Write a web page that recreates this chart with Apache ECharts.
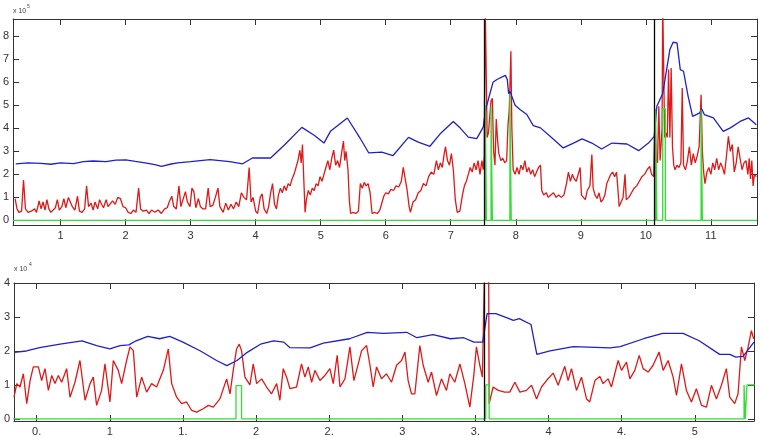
<!DOCTYPE html>
<html>
<head>
<meta charset="utf-8">
<script src="https://cdn.jsdelivr.net/npm/echarts@6/dist/echarts.min.js"></script>
<style>
  html, body { margin: 0; padding: 0; background: #fff; }
  #chart { width: 762px; height: 438px; }
</style>
</head>
<body>
<div id="chart"></div>
<script>
// top panel, values in units of 10^5
const topXTicks = [1, 2, 3, 4, 5, 6, 7, 8, 9, 10, 11];
const topYTicks = [0, 1, 2, 3, 4, 5, 6, 7, 8];
const topBlack = [7.52, 10.13];

const topBlue = [
  [0.31, 2.46], [0.5, 2.5], [0.7, 2.48], [0.85, 2.44], [1.0, 2.5], [1.2, 2.47], [1.35, 2.55], [1.5, 2.58],
  [1.7, 2.55], [1.85, 2.62], [2.0, 2.63], [2.15, 2.56], [2.3, 2.5], [2.45, 2.42], [2.55, 2.35], [2.7, 2.45],
  [2.8, 2.5], [3.0, 2.55], [3.15, 2.6], [3.3, 2.64], [3.45, 2.6], [3.6, 2.55], [3.8, 2.46], [3.95, 2.71],
  [4.05, 2.72], [4.23, 2.71], [4.45, 3.3], [4.71, 4.04], [4.9, 3.7], [5.05, 3.36], [5.15, 3.87], [5.41, 4.45],
  [5.6, 3.6], [5.74, 2.93], [5.94, 2.97], [6.11, 2.81], [6.35, 3.61], [6.5, 3.4], [6.68, 3.22], [6.85, 3.8],
  [7.04, 4.3], [7.15, 4.0], [7.27, 3.62], [7.40, 3.55], [7.50, 4.05], [7.53, 4.7], [7.55, 4.96], [7.65, 6.0],
  [7.71, 6.12], [7.84, 6.3], [7.87, 6.12], [7.89, 5.5], [7.91, 5.61], [7.99, 5.0], [8.07, 4.81], [8.17, 4.6],
  [8.27, 4.12], [8.38, 4.02], [8.55, 3.6], [8.73, 3.15], [8.88, 3.35], [9.02, 3.54], [9.17, 3.36], [9.32, 3.10],
  [9.48, 3.36], [9.71, 3.32], [9.89, 3.03], [10.04, 3.36], [10.13, 3.65], [10.17, 4.96], [10.26, 5.51],
  [10.37, 7.42], [10.42, 7.74], [10.48, 7.71], [10.53, 6.55], [10.58, 6.48], [10.65, 5.4], [10.72, 4.52],
  [10.83, 4.67], [10.86, 4.84], [10.90, 4.6], [11.04, 4.45], [11.19, 3.87], [11.30, 4.02], [11.45, 4.3],
  [11.58, 4.45], [11.70, 4.16]
];

const topRed = [
  [0.30, 0.95], [0.33, 0.5], [0.36, 0.35], [0.40, 0.4], [0.43, 1.75], [0.46, 0.5], [0.50, 0.35], [0.55, 0.4],
  [0.60, 0.5], [0.63, 0.35], [0.67, 0.85], [0.70, 0.5], [0.73, 0.8], [0.76, 0.45], [0.79, 0.9], [0.82, 0.5],
  [0.85, 0.35], [0.88, 0.3], [0.92, 0.55], [0.95, 0.9], [0.98, 0.45], [1.02, 0.6], [1.05, 0.95], [1.08, 0.55],
  [1.12, 1.0], [1.15, 1.05], [1.18, 0.6], [1.22, 0.45], [1.26, 1.05], [1.29, 0.4], [1.33, 0.35], [1.37, 0.5],
  [1.40, 1.5], [1.43, 0.6], [1.47, 0.75], [1.50, 0.45], [1.53, 0.8], [1.57, 0.5], [1.60, 0.9], [1.63, 0.7],
  [1.66, 0.55], [1.70, 0.9], [1.73, 0.6], [1.76, 0.65], [1.80, 0.85], [1.84, 0.7], [1.88, 1.0], [1.92, 0.95],
  [1.96, 0.6], [2.00, 0.55], [2.04, 0.35], [2.08, 0.3], [2.12, 0.45], [2.16, 0.35], [2.20, 1.4], [2.23, 0.5],
  [2.27, 0.4], [2.32, 0.45], [2.36, 0.3], [2.40, 0.45], [2.45, 0.35], [2.50, 0.45], [2.55, 0.3], [2.60, 0.5],
  [2.64, 0.55], [2.67, 0.8], [2.71, 1.05], [2.74, 0.6], [2.78, 0.5], [2.82, 1.5], [2.85, 0.6], [2.88, 0.6],
  [2.92, 1.25], [2.95, 0.8], [2.99, 0.6], [3.02, 1.4], [3.05, 1.25], [3.08, 0.55], [3.12, 0.95], [3.15, 0.6],
  [3.19, 0.5], [3.23, 0.5], [3.27, 1.4], [3.30, 0.6], [3.34, 0.65], [3.38, 1.0], [3.42, 1.4], [3.45, 0.6],
  [3.50, 0.35], [3.54, 0.75], [3.58, 0.45], [3.62, 0.7], [3.66, 0.5], [3.70, 0.8], [3.74, 0.6], [3.78, 1.2],
  [3.82, 1.0], [3.86, 0.9], [3.90, 2.3], [3.93, 0.8], [3.96, 1.0], [4.00, 0.4], [4.03, 0.3], [4.07, 1.0],
  [4.10, 1.15], [4.13, 0.5], [4.17, 0.3], [4.20, 0.6], [4.23, 1.2], [4.26, 1.6], [4.29, 0.7], [4.32, 0.5],
  [4.35, 1.1], [4.38, 1.4], [4.41, 1.2], [4.44, 1.5], [4.47, 1.3], [4.50, 1.6], [4.53, 1.5], [4.56, 1.8],
  [4.59, 2.0], [4.62, 2.3], [4.65, 2.6], [4.68, 3.05], [4.70, 2.5], [4.72, 3.3], [4.74, 1.8], [4.76, 0.35],
  [4.78, 0.9], [4.81, 1.3], [4.84, 1.1], [4.87, 1.4], [4.90, 1.3], [4.93, 1.6], [4.96, 1.5], [4.99, 1.9],
  [5.02, 1.7], [5.05, 2.0], [5.08, 2.3], [5.11, 2.6], [5.14, 2.2], [5.17, 2.7], [5.20, 3.05], [5.23, 2.4],
  [5.26, 2.6], [5.29, 2.3], [5.32, 2.9], [5.35, 3.45], [5.37, 2.6], [5.39, 3.0], [5.42, 2.2], [5.44, 0.9],
  [5.46, 0.3], [5.50, 0.35], [5.54, 0.3], [5.58, 0.4], [5.61, 1.6], [5.64, 1.4], [5.67, 1.65], [5.70, 1.5],
  [5.73, 1.6], [5.76, 1.2], [5.79, 0.3], [5.83, 0.35], [5.87, 0.3], [5.91, 0.45], [5.94, 0.5], [5.97, 1.05],
  [6.00, 1.2], [6.04, 1.15], [6.08, 1.35], [6.12, 1.3], [6.16, 1.5], [6.20, 1.45], [6.24, 1.7], [6.27, 2.3],
  [6.30, 1.8], [6.33, 1.3], [6.36, 0.6], [6.38, 0.35], [6.42, 0.8], [6.46, 0.9], [6.50, 1.2], [6.54, 1.3],
  [6.58, 1.6], [6.62, 1.5], [6.66, 1.9], [6.70, 2.1], [6.74, 2.0], [6.78, 2.6], [6.81, 2.2], [6.84, 2.5],
  [6.87, 2.3], [6.90, 2.9], [6.92, 3.2], [6.95, 2.6], [6.98, 2.4], [7.01, 2.9], [7.04, 2.2], [7.07, 0.9],
  [7.10, 0.35], [7.14, 0.4], [7.18, 1.1], [7.21, 1.5], [7.24, 1.7], [7.27, 2.0], [7.30, 2.3], [7.33, 2.1],
  [7.36, 2.5], [7.39, 2.2], [7.42, 2.6], [7.45, 2.0], [7.48, 2.6], [7.50, 2.2], [7.515, 2.8], [7.53, 9.5],
  [7.545, 9.5], [7.56, 3.6], [7.58, 3.8], [7.60, 4.5], [7.62, 5.2], [7.64, 5.3], [7.66, 3.0], [7.68, 2.4],
  [7.70, 4.4], [7.72, 3.5], [7.74, 2.9], [7.77, 2.6], [7.80, 2.7], [7.83, 2.5], [7.86, 2.6], [7.88, 4.1],
  [7.90, 4.8], [7.925, 7.35], [7.94, 4.0], [7.96, 2.2], [7.99, 2.0], [8.02, 2.3], [8.05, 2.0], [8.08, 2.4],
  [8.11, 2.2], [8.14, 2.6], [8.17, 2.1], [8.20, 2.3], [8.23, 2.0], [8.26, 2.2], [8.29, 1.9], [8.32, 2.1],
  [8.35, 2.3], [8.38, 2.4], [8.40, 1.3], [8.43, 1.1], [8.47, 1.2], [8.50, 1.0], [8.54, 1.1], [8.58, 1.2],
  [8.62, 1.0], [8.66, 1.1], [8.70, 1.0], [8.74, 1.1], [8.78, 1.6], [8.81, 2.1], [8.84, 1.7], [8.87, 2.0],
  [8.90, 1.8], [8.93, 1.7], [8.96, 2.0], [8.99, 2.3], [9.01, 1.1], [9.04, 1.0], [9.07, 0.9], [9.10, 1.3],
  [9.14, 1.5], [9.17, 2.86], [9.19, 1.4], [9.22, 1.1], [9.25, 0.95], [9.28, 1.2], [9.31, 0.8], [9.34, 0.9],
  [9.37, 1.1], [9.40, 1.6], [9.43, 1.8], [9.46, 2.0], [9.49, 2.1], [9.52, 1.9], [9.55, 2.1], [9.57, 1.4],
  [9.59, 0.6], [9.62, 0.8], [9.65, 1.0], [9.68, 2.0], [9.70, 0.9], [9.74, 1.0], [9.78, 1.2], [9.82, 1.4],
  [9.86, 1.5], [9.90, 1.7], [9.94, 1.9], [9.98, 2.0], [10.02, 2.2], [10.06, 2.35], [10.09, 2.0], [10.12, 1.9],
  [10.14, 4.5], [10.16, 2.6], [10.18, 2.5], [10.20, 4.96], [10.22, 2.6], [10.25, 4.0], [10.26, 9.5],
  [10.28, 9.5], [10.29, 3.6], [10.31, 3.8], [10.33, 3.6], [10.35, 6.55], [10.37, 3.6], [10.39, 6.62],
  [10.41, 3.2], [10.43, 2.4], [10.45, 2.2], [10.48, 2.4], [10.51, 2.3], [10.54, 2.5], [10.56, 5.75],
  [10.58, 2.4], [10.61, 2.2], [10.64, 2.6], [10.67, 3.2], [10.70, 2.4], [10.73, 2.9], [10.76, 2.5],
  [10.79, 2.8], [10.82, 3.2], [10.85, 5.46], [10.87, 3.0], [10.89, 2.1], [10.91, 1.6], [10.94, 2.1],
  [10.97, 2.3], [11.00, 2.0], [11.03, 2.5], [11.06, 2.2], [11.09, 2.7], [11.12, 2.2], [11.15, 2.5],
  [11.18, 2.3], [11.21, 2.0], [11.24, 2.8], [11.27, 3.65], [11.30, 3.0], [11.33, 3.3], [11.36, 2.1],
  [11.39, 2.5], [11.42, 3.2], [11.45, 2.7], [11.48, 2.2], [11.51, 2.5], [11.54, 2.6], [11.57, 2.0],
  [11.59, 2.7], [11.61, 1.8], [11.63, 2.6], [11.65, 1.5], [11.67, 2.0], [11.70, 1.9]
];

const topGreen = [
  [0.27, 0], [7.53, 0], [7.53, 5.0], [7.55, 5.0], [7.55, 0], [7.62, 0], [7.62, 4.95], [7.64, 4.95], [7.64, 0],
  [7.91, 0], [7.91, 5.5], [7.93, 5.5], [7.93, 0], [10.15, 0], [10.15, 4.85], [10.17, 4.85], [10.17, 0],
  [10.26, 0], [10.26, 4.85], [10.30, 4.85], [10.30, 0], [10.85, 0], [10.85, 4.8], [10.87, 4.8], [10.87, 0],
  [11.71, 0]
];

// bottom panel, values in units of 10^4
const bottomXTicks = [0.5, 1, 1.5, 2, 2.5, 3, 3.5, 4, 4.5, 5];
const bottomXLabels = ['0.', '1', '1.', '2', '2.', '3', '3.', '4', '4.', '5'];
const bottomYTicks = [0, 1, 2, 3, 4];
const bottomBlack = [3.56];

const bottomBlue = [
  [0.345, 1.96], [0.43, 2.0], [0.52, 2.1], [0.66, 2.2], [0.81, 2.3], [0.91, 2.16], [1.0, 2.06], [1.07, 2.16],
  [1.13, 2.18], [1.18, 2.3], [1.26, 2.43], [1.34, 2.36], [1.41, 2.43], [1.5, 2.26], [1.62, 2.0], [1.73, 1.72],
  [1.80, 1.57], [1.87, 1.72], [1.94, 1.96], [2.03, 2.2], [2.12, 2.3], [2.19, 2.26], [2.23, 2.1], [2.37, 2.09],
  [2.46, 2.23], [2.64, 2.36], [2.76, 2.55], [2.87, 2.52], [3.03, 2.55], [3.10, 2.39], [3.21, 2.48],
  [3.33, 2.36], [3.42, 2.39], [3.49, 2.26], [3.55, 2.26], [3.58, 3.1], [3.64, 3.1], [3.73, 2.95],
  [3.76, 2.9], [3.80, 2.95], [3.88, 2.78], [3.92, 1.9], [4.01, 2.0], [4.17, 2.13], [4.42, 2.09], [4.49, 2.13],
  [4.65, 2.36], [4.78, 2.52], [4.92, 2.52], [5.03, 2.3], [5.17, 1.9], [5.24, 1.9], [5.28, 1.82], [5.33, 1.84],
  [5.405, 2.26]
];

const bottomRed = [
  [0.345, 0.64], [0.364, 1.04], [0.386, 0.94], [0.409, 1.33], [0.432, 0.45], [0.455, 1.13], [0.477, 1.53],
  [0.512, 1.53], [0.534, 1.13], [0.557, 1.48], [0.580, 0.84], [0.603, 1.28], [0.625, 1.04], [0.648, 1.28],
  [0.671, 1.08], [0.705, 1.48], [0.728, 0.64], [0.762, 1.08], [0.796, 1.72], [0.831, 0.55], [0.865, 1.04],
  [0.887, 1.23], [0.910, 0.4], [0.944, 0.84], [0.967, 1.62], [1.001, 0.5], [1.024, 1.72], [1.058, 1.43],
  [1.081, 1.04], [1.115, 1.72], [1.138, 2.12], [1.161, 2.01], [1.184, 0.64], [1.218, 1.23], [1.252, 0.79],
  [1.286, 1.04], [1.320, 0.94], [1.366, 1.43], [1.400, 2.06], [1.423, 1.04], [1.457, 0.64], [1.491, 0.45],
  [1.525, 0.5], [1.560, 0.25], [1.594, 0.2], [1.639, 0.3], [1.673, 0.4], [1.708, 0.35], [1.753, 0.59],
  [1.799, 1.18], [1.822, 0.74], [1.844, 1.43], [1.867, 2.06], [1.885, 2.2], [1.901, 2.01], [1.924, 1.23],
  [1.958, 1.0], [1.981, 1.62], [2.004, 1.04], [2.038, 1.18], [2.072, 0.94], [2.106, 0.74], [2.141, 1.04],
  [2.163, 0.55], [2.186, 1.48], [2.209, 1.23], [2.232, 0.89], [2.277, 0.94], [2.311, 1.62], [2.334, 1.23],
  [2.357, 1.53], [2.380, 1.08], [2.403, 1.43], [2.437, 1.13], [2.471, 1.28], [2.505, 1.48], [2.528, 1.04],
  [2.555, 1.87], [2.574, 0.94], [2.608, 1.18], [2.642, 2.12], [2.669, 1.13], [2.699, 1.62], [2.722, 2.01],
  [2.756, 2.16], [2.779, 1.58], [2.801, 0.94], [2.824, 1.53], [2.858, 1.18], [2.892, 1.33], [2.926, 1.08],
  [2.961, 1.58], [2.995, 1.72], [3.018, 1.97], [3.040, 1.13], [3.063, 0.74], [3.086, 0.74], [3.120, 2.16],
  [3.143, 1.58], [3.177, 1.08], [3.200, 1.38], [3.234, 0.69], [3.268, 1.18], [3.302, 0.84], [3.325, 1.33],
  [3.359, 1.08], [3.394, 1.62], [3.428, 1.04], [3.462, 0.35], [3.489, 1.28], [3.507, 2.12], [3.530, 1.58],
  [3.548, 1.23], [3.565, 5.0], [3.59, 5.0], [3.594, 0.45], [3.621, 0.94], [3.656, 0.84], [3.701, 0.79],
  [3.735, 0.79], [3.770, 1.08], [3.804, 0.79], [3.849, 0.84], [3.884, 0.99], [3.918, 0.59], [3.952, 0.94],
  [3.986, 1.13], [4.032, 1.35], [4.066, 0.99], [4.111, 1.55], [4.134, 1.13], [4.157, 1.48], [4.191, 0.84],
  [4.225, 1.23], [4.260, 0.59], [4.282, 0.5], [4.317, 1.13], [4.351, 1.25], [4.373, 1.04], [4.407, 1.18],
  [4.430, 0.94], [4.476, 1.72], [4.499, 1.43], [4.533, 1.67], [4.556, 1.18], [4.590, 1.43], [4.620, 1.87],
  [4.647, 1.48], [4.681, 1.38], [4.715, 1.58], [4.756, 1.97], [4.784, 1.43], [4.818, 1.72], [4.852, 1.23],
  [4.875, 0.69], [4.909, 1.62], [4.943, 0.84], [4.977, 0.5], [5.011, 0.89], [5.046, 0.4], [5.080, 0.35],
  [5.114, 0.99], [5.148, 0.59], [5.182, 0.99], [5.216, 1.48], [5.239, 0.64], [5.273, 0.45], [5.296, 0.74],
  [5.319, 2.12], [5.342, 1.72], [5.365, 2.12], [5.387, 2.6], [5.403, 2.36]
];

const bottomGreen = [
  [0.34, 0], [1.863, 0], [1.863, 0.98], [1.901, 0.98], [1.901, 0], [3.571, 0], [3.571, 1.0], [3.594, 1.0],
  [3.594, 0], [5.337, 0], [5.337, 1.0], [5.345, 1.0], [5.345, 0], [5.357, 0], [5.357, 1.0], [5.41, 1.0]
];

const BLUE = '#2020c8';
const RED = '#e01818';
const GREEN = '#33dd33';
const AXIS = '#333';
const FONT = 'Liberation Sans, Arial, sans-serif';

const chart = echarts.init(document.getElementById('chart'));

function xAxisPair(gridIndex, min, max, ticks, formatter) {
  const base = {
    type: 'value', gridIndex, min, max,
    splitLine: { show: false },
    axisLine: { show: true, onZero: false, lineStyle: { color: AXIS, width: 1 } },
    axisTick: { show: true, inside: true, length: 6, customValues: ticks, lineStyle: { color: AXIS } }
  };
  return [
    Object.assign({}, base, {
      position: 'bottom',
      axisLabel: { show: true, customValues: ticks, margin: 5, fontSize: 11, color: '#333', fontFamily: FONT, formatter }
    }),
    Object.assign({}, base, { position: 'top', axisLabel: { show: false } })
  ];
}

function yAxisPair(gridIndex, min, max, ticks) {
  const base = {
    type: 'value', gridIndex, min, max,
    splitLine: { show: false },
    axisLine: { show: true, onZero: false, lineStyle: { color: AXIS, width: 1 } },
    axisTick: { show: true, inside: true, length: 6, customValues: ticks, lineStyle: { color: AXIS } }
  };
  return [
    Object.assign({}, base, {
      position: 'left',
      axisLabel: { show: true, customValues: ticks, margin: 4, fontSize: 11, color: '#333', fontFamily: FONT }
    }),
    Object.assign({}, base, { position: 'right', axisLabel: { show: false } })
  ];
}

function line(name, data, color, xi, yi, extra) {
  return Object.assign({
    name, type: 'line', data, xAxisIndex: xi, yAxisIndex: yi,
    showSymbol: false, symbol: 'none', clip: true, animation: false,
    lineStyle: { color, width: 1.3 }
  }, extra || {});
}

function blackLines(values) {
  return {
    silent: true, symbol: 'none', animation: false,
    label: { show: false },
    lineStyle: { color: '#000', type: 'solid', width: 1.3 },
    data: values.map(v => ({ xAxis: v }))
  };
}

chart.setOption({
  animation: false,
  backgroundColor: '#fff',
  grid: [
    { left: 13, right: 5, top: 19, height: 206 },
    { left: 14, right: 8, top: 283, height: 138 }
  ],
  xAxis: [
    ...xAxisPair(0, 0.27, 11.71, topXTicks, v => String(v)),
    ...xAxisPair(1, 0.345, 5.405, bottomXTicks, v => {
      const i = bottomXTicks.findIndex(t => Math.abs(t - v) < 1e-6);
      return i >= 0 ? bottomXLabels[i] : '';
    })
  ],
  yAxis: [
    ...yAxisPair(0, -0.2, 8.75, topYTicks),
    ...yAxisPair(1, -0.06, 4, bottomYTicks)
  ],
  graphic: [
    { type: 'text', left: 13, top: 8, style: { text: 'x 10', fontSize: 7, fill: '#444', fontFamily: FONT } },
    { type: 'text', left: 27, top: 4, style: { text: '5', fontSize: 5, fill: '#444', fontFamily: FONT } },
    { type: 'text', left: 14, top: 266, style: { text: 'x 10', fontSize: 7, fill: '#444', fontFamily: FONT } },
    { type: 'text', left: 29, top: 262, style: { text: '4', fontSize: 5, fill: '#444', fontFamily: FONT } }
  ],
  series: [
    line('top red', topRed, RED, 0, 0),
    line('top blue', topBlue, BLUE, 0, 0),
    line('top green', topGreen, GREEN, 0, 0, { markLine: blackLines(topBlack) }),
    line('bottom red', bottomRed, RED, 2, 2),
    line('bottom blue', bottomBlue, BLUE, 2, 2),
    line('bottom green', bottomGreen, GREEN, 2, 2, { markLine: blackLines(bottomBlack) })
  ]
});
</script>
</body>
</html>
